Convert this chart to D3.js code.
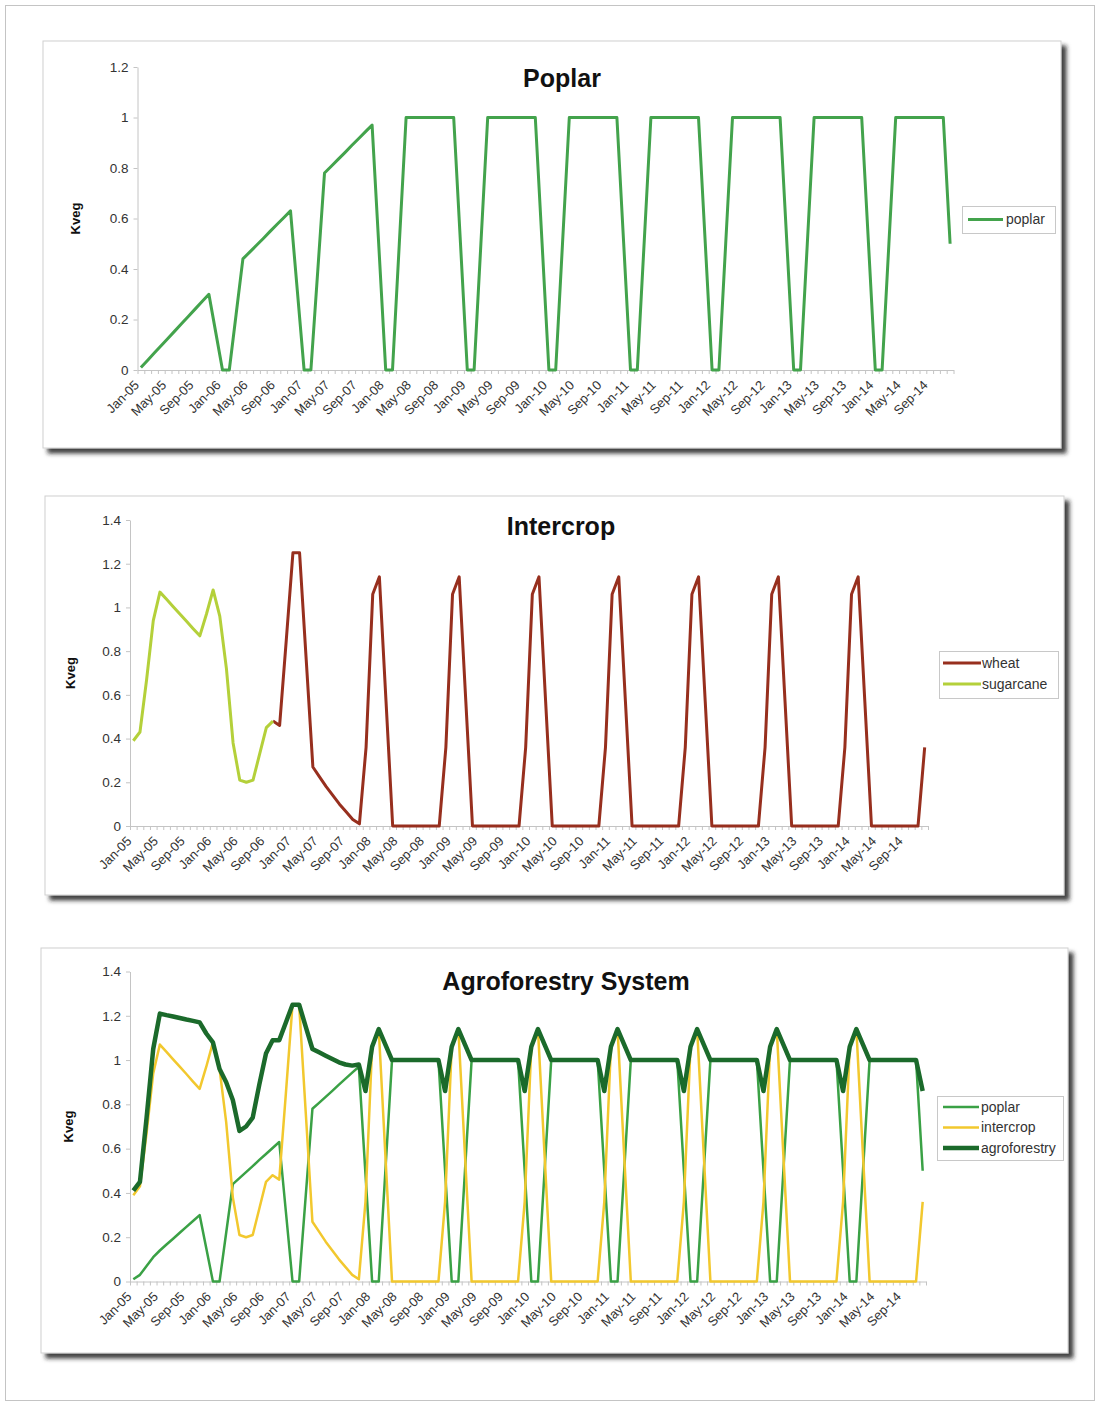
<!DOCTYPE html>
<html><head><meta charset="utf-8">
<script src="https://cdn.jsdelivr.net/npm/d3@7"></script>
<style>html,body{margin:0;padding:0;background:#fff}svg{display:block}</style>
</head><body>
<svg id="chart" width="1100" height="1405"></svg>
<script>
// ---------------- DATA ----------------
const monthNames = ["Jan","Feb","Mar","Apr","May","Jun","Jul","Aug","Sep","Oct","Nov","Dec"];
const years = ["05","06","07","08","09","10","11","12","13","14"];
const categories = years.flatMap(y => monthNames.map(m => m + "-" + y));
const tickLabels = ["Jan-05","May-05","Sep-05","Jan-06","May-06","Sep-06","Jan-07","May-07","Sep-07",
  "Jan-08","May-08","Sep-08","Jan-09","May-09","Sep-09","Jan-10","May-10","Sep-10","Jan-11","May-11","Sep-11",
  "Jan-12","May-12","Sep-12","Jan-13","May-13","Sep-13","Jan-14","May-14","Sep-14"];
const yTicksPoplar = [0, 0.2, 0.4, 0.6, 0.8, 1, 1.2];
const yTicksCrop = [0, 0.2, 0.4, 0.6, 0.8, 1, 1.2, 1.4];

// Panel 1: poplar Kveg
const poplar = [
  0.01,0.039,0.068,0.097,0.126,0.155,0.184,0.213,0.242,0.271,0.30,0.15,
  0,0,0.22,0.44,0.467,0.494,0.521,0.549,0.576,0.603,0.63,0.315,
  0,0,0.39,0.78,0.807,0.834,0.861,0.889,0.916,0.943,0.97,0.485,
  0,0,0.5,1,1,1,1,1,1,1,1,0.5,
  0,0,0.5,1,1,1,1,1,1,1,1,0.5,
  0,0,0.5,1,1,1,1,1,1,1,1,0.5,
  0,0,0.5,1,1,1,1,1,1,1,1,0.5,
  0,0,0.5,1,1,1,1,1,1,1,1,0.5,
  0,0,0.5,1,1,1,1,1,1,1,1,0.5,
  0,0,0.5,1,1,1,1,1,1,1,1,0.5
];
// Panel 2: intercrop
const wheat = [
  null,null,null,null,null,null,null,null,null,null,null,null,
  null,null,null,null,null,null,null,null,null,0.48,0.46,0.85,
  1.25,1.25,0.76,0.27,0.225,0.18,0.14,0.10,0.065,0.03,0.01,0.36,
  1.06,1.14,0.57,0,0,0,0,0,0,0,0,0.36,
  1.06,1.14,0.57,0,0,0,0,0,0,0,0,0.36,
  1.06,1.14,0.57,0,0,0,0,0,0,0,0,0.36,
  1.06,1.14,0.57,0,0,0,0,0,0,0,0,0.36,
  1.06,1.14,0.57,0,0,0,0,0,0,0,0,0.36,
  1.06,1.14,0.57,0,0,0,0,0,0,0,0,0.36,
  1.06,1.14,0.57,0,0,0,0,0,0,0,0,0.36
];
const sugarcane = [
  0.39,0.43,0.67,0.94,1.07,1.037,1.003,0.97,0.937,0.903,0.87,0.97,
  1.08,0.96,0.72,0.38,0.21,0.20,0.21,0.33,0.45,0.48
];
// Panel 3: agroforestry system
const poplarAF = [
  0.01,0.03,0.07,0.11,0.14,0.167,0.193,0.22,0.247,0.273,0.30,0.15,
  0,0,0.22,0.44,0.467,0.494,0.521,0.549,0.576,0.603,0.63,0.315,
  0,0,0.39,0.78,0.807,0.834,0.861,0.889,0.916,0.943,0.97,0.485,
  0,0,0.5,1,1,1,1,1,1,1,1,0.5,
  0,0,0.5,1,1,1,1,1,1,1,1,0.5,
  0,0,0.5,1,1,1,1,1,1,1,1,0.5,
  0,0,0.5,1,1,1,1,1,1,1,1,0.5,
  0,0,0.5,1,1,1,1,1,1,1,1,0.5,
  0,0,0.5,1,1,1,1,1,1,1,1,0.5,
  0,0,0.5,1,1,1,1,1,1,1,1,0.5
];
const intercrop = [
  0.39,0.43,0.67,0.94,1.07,1.037,1.003,0.97,0.937,0.903,0.87,0.97,
  1.08,0.96,0.72,0.38,0.21,0.20,0.21,0.33,0.45,0.48,0.46,0.85,
  1.25,1.25,0.76,0.27,0.225,0.18,0.14,0.10,0.065,0.03,0.01,0.36,
  1.06,1.14,0.57,0,0,0,0,0,0,0,0,0.36,
  1.06,1.14,0.57,0,0,0,0,0,0,0,0,0.36,
  1.06,1.14,0.57,0,0,0,0,0,0,0,0,0.36,
  1.06,1.14,0.57,0,0,0,0,0,0,0,0,0.36,
  1.06,1.14,0.57,0,0,0,0,0,0,0,0,0.36,
  1.06,1.14,0.57,0,0,0,0,0,0,0,0,0.36,
  1.06,1.14,0.57,0,0,0,0,0,0,0,0,0.36
];
const agroforestry = [
  0.41,0.45,0.74,1.05,1.21,1.203,1.197,1.19,1.183,1.177,1.17,1.12,
  1.08,0.96,0.90,0.82,0.68,0.70,0.74,0.89,1.03,1.09,1.09,1.17,
  1.25,1.25,1.15,1.05,1.035,1.02,1.005,0.99,0.98,0.975,0.98,0.86,
  1.06,1.14,1.07,1,1,1,1,1,1,1,1,0.86,
  1.06,1.14,1.07,1,1,1,1,1,1,1,1,0.86,
  1.06,1.14,1.07,1,1,1,1,1,1,1,1,0.86,
  1.06,1.14,1.07,1,1,1,1,1,1,1,1,0.86,
  1.06,1.14,1.07,1,1,1,1,1,1,1,1,0.86,
  1.06,1.14,1.07,1,1,1,1,1,1,1,1,0.86,
  1.06,1.14,1.07,1,1,1,1,1,1,1,1,0.86
];

// ---------------- STYLE / LAYOUT ----------------
const FONT = "'Liberation Sans', Arial, Helvetica, sans-serif";
const C_POPLAR = "#43a34c", C_WHEAT = "#972f1e", C_SUGAR = "#b4d03a";
const C_POPLAR_AF = "#3aa145", C_INTER = "#f2c82e", C_AGRO = "#1b6a2b";

const panels = [
  { title: "Poplar", box: {x: 43, y: 41, w: 1018, h: 407},
    plot: {x0: 137.5, x1: 953.5, y0: 370, y1: 67}, yMax: 1.2, yTicks: yTicksPoplar,
    titleX: 562, titleY: 87, kvegX: 75,
    legend: {x: 962, y: 206, w: 93, h: 27, lineX0: 968, lineX1: 1003, textX: 1006, rowY: [219.5]},
    series: [{name: "poplar", values: poplar, color: C_POPLAR, width: 3}],
    legendOrder: [0] },
  { title: "Intercrop", box: {x: 45, y: 496, w: 1019, h: 399},
    plot: {x0: 130, x1: 928, y0: 826, y1: 520}, yMax: 1.4, yTicks: yTicksCrop,
    titleX: 561, titleY: 535, kvegX: 70,
    legend: {x: 939, y: 651, w: 119, h: 47, lineX0: 943, lineX1: 981, textX: 982, rowY: [663, 684]},
    series: [{name: "wheat", values: wheat, color: C_WHEAT, width: 3},
             {name: "sugarcane", values: sugarcane, color: C_SUGAR, width: 3}],
    legendOrder: [0, 1] },
  { title: "Agroforestry System", box: {x: 41, y: 948, w: 1027, h: 405},
    plot: {x0: 130, x1: 926, y0: 1281.5, y1: 971.5}, yMax: 1.4, yTicks: yTicksCrop,
    titleX: 566, titleY: 990, kvegX: 68,
    legend: {x: 937, y: 1096, w: 126, h: 64, lineX0: 943, lineX1: 979, textX: 981, rowY: [1107, 1127.5, 1148]},
    series: [{name: "poplar", values: poplarAF, color: C_POPLAR_AF, width: 2.5},
             {name: "intercrop", values: intercrop, color: C_INTER, width: 2.5},
             {name: "agroforestry", values: agroforestry, color: C_AGRO, width: 4.5}],
    legendOrder: [0, 1, 2] }
];

// ---------------- DRAW ----------------
const svg = d3.select("#chart");
svg.append("rect").attr("width", 1100).attr("height", 1405).attr("fill", "#fff");
svg.append("rect").attr("x", 5.5).attr("y", 5.5).attr("width", 1089).attr("height", 1395)
  .attr("fill", "none").attr("stroke", "#c4c4c4").attr("stroke-width", 1);

const defs = svg.append("defs");
const flt = defs.append("filter").attr("id", "shadow")
  .attr("x", "-2%").attr("y", "-3%").attr("width", "106%").attr("height", "110%");
flt.append("feDropShadow").attr("dx", 5).attr("dy", 5).attr("stdDeviation", 2)
  .attr("flood-color", "#222").attr("flood-opacity", 0.85);

panels.forEach(p => {
  const g = svg.append("g");
  g.append("rect").attr("x", p.box.x).attr("y", p.box.y).attr("width", p.box.w).attr("height", p.box.h)
    .attr("fill", "#fff").attr("stroke", "#d0d0d0").attr("stroke-width", 1).attr("filter", "url(#shadow)");

  const xBand = d3.scaleBand().domain(categories).range([p.plot.x0, p.plot.x1]).paddingInner(0).paddingOuter(0);
  const xEdge = d3.scaleLinear().domain([0, categories.length]).range([p.plot.x0, p.plot.x1]);
  const y = d3.scaleLinear().domain([0, p.yMax]).range([p.plot.y0, p.plot.y1]);
  const cx = i => xBand(categories[i]) + xBand.bandwidth() / 2;

  // y axis
  const yAxis = g.append("g").attr("transform", `translate(${p.plot.x0},0)`)
    .call(d3.axisLeft(y).tickValues(p.yTicks).tickSize(4).tickSizeOuter(0).tickPadding(5)
      .tickFormat(d => String(d)));
  yAxis.select(".domain").attr("stroke", "#c4c4c4");
  yAxis.selectAll(".tick line").attr("stroke", "#c4c4c4");
  yAxis.selectAll("text").attr("font-family", FONT).attr("font-size", 13.5).attr("fill", "#333");

  // x axis: tick marks at category edges
  const xTicks = g.append("g").attr("transform", `translate(0,${p.plot.y0})`)
    .call(d3.axisBottom(xEdge).tickValues(d3.range(categories.length + 1)).tickSize(4).tickSizeOuter(0).tickFormat(""));
  xTicks.select(".domain").attr("stroke", "#c4c4c4");
  xTicks.selectAll(".tick line").attr("stroke", "#c4c4c4");

  // x labels at category centres
  const xLab = g.append("g").attr("transform", `translate(0,${p.plot.y0})`)
    .call(d3.axisBottom(xBand).tickValues(tickLabels).tickSize(0).tickSizeOuter(0));
  xLab.select(".domain").remove();
  xLab.selectAll("text")
    .attr("font-family", FONT).attr("font-size", 13).attr("fill", "#333")
    .attr("x", 0).attr("y", 0).attr("dy", 0)
    .attr("text-anchor", "end")
    .attr("transform", "translate(-1,16) rotate(-45)");

  // Kveg label
  g.append("text").attr("transform", `translate(${p.kvegX},${(p.plot.y0 + p.plot.y1) / 2}) rotate(-90)`)
    .attr("text-anchor", "middle").attr("dy", "0.35em")
    .attr("font-family", FONT).attr("font-weight", "bold").attr("font-size", 13).attr("fill", "#111")
    .text("Kveg");

  // title
  g.append("text").attr("x", p.titleX).attr("y", p.titleY).attr("text-anchor", "middle")
    .attr("font-family", FONT).attr("font-weight", "bold").attr("font-size", 25).attr("fill", "#111")
    .text(p.title);

  // series
  p.series.forEach(s => {
    const line = d3.line().defined(d => d != null).x((d, i) => cx(i)).y(d => y(d));
    g.append("path").datum(s.values).attr("d", line)
      .attr("fill", "none").attr("stroke", s.color).attr("stroke-width", s.width)
      .attr("stroke-linejoin", "round").attr("stroke-linecap", "butt");
  });

  // legend
  const L = p.legend;
  g.append("rect").attr("x", L.x + 0.5).attr("y", L.y + 0.5).attr("width", L.w).attr("height", L.h)
    .attr("fill", "#fff").attr("stroke", "#c8c8c8");
  p.legendOrder.forEach((si, k) => {
    const s = p.series[si];
    g.append("line").attr("x1", L.lineX0).attr("x2", L.lineX1).attr("y1", L.rowY[k]).attr("y2", L.rowY[k])
      .attr("stroke", s.color).attr("stroke-width", s.width);
    g.append("text").attr("x", L.textX).attr("y", L.rowY[k]).attr("dy", "0.35em")
      .attr("font-family", FONT).attr("font-size", 14).attr("fill", "#333").text(s.name);
  });
});
</script>
</body></html>
